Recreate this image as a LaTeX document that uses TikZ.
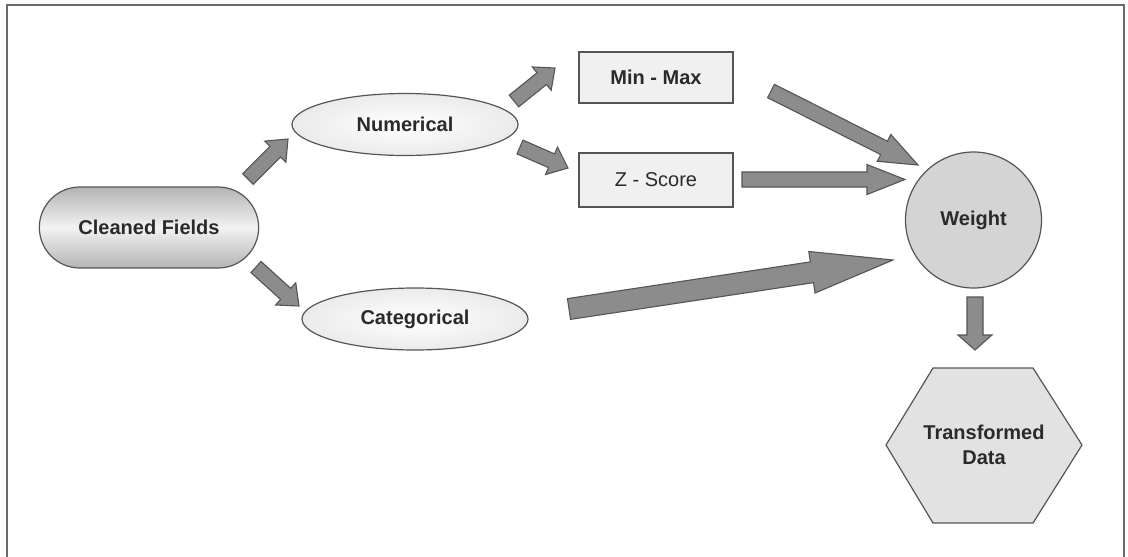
\documentclass[tikz,border=0pt]{standalone}
\usepackage{fontspec}
\setmainfont{Liberation Sans}
\usetikzlibrary{calc,shapes.geometric,shapes.misc}

\definecolor{inkgray}{HTML}{2A2A2A}
\definecolor{edgegray}{HTML}{555555}
\definecolor{framegray}{HTML}{6A6A6A}
\definecolor{arrowfill}{HTML}{8C8C8C}
\definecolor{boxfill}{HTML}{F0F0F0}
\definecolor{weightfill}{HTML}{D4D4D4}
\definecolor{hexfill}{HTML}{E2E2E2}
\definecolor{pilledge}{HTML}{B4B4B4}
\definecolor{pillmid}{HTML}{F2F2F2}

% Block arrow: tail, tip, shaft half-width, head half-width, head length (in pt)
\newcommand{\flowarrow}[5]{%
  \coordinate (fa-base) at ($(#2)!#5pt!(#1)$);
  \draw[flowarr] ($(#1)!#3pt!90:(#2)$) -- ($(fa-base)!#3pt!-90:(#1)$)
    -- ($(fa-base)!#4pt!-90:(#1)$) -- (#2) -- ($(fa-base)!#4pt!90:(#1)$)
    -- ($(fa-base)!#3pt!90:(#1)$) -- ($(#1)!#3pt!-90:(#2)$) -- cycle;}

\tikzset{
  lbl/.style={text=inkgray, font=\fontsize{20}{25}\selectfont\bfseries},
  outline/.style={draw=edgegray, line width=1.2pt},
  pill/.style={lbl, outline, rounded rectangle, minimum width=226pt, minimum height=81pt,
    top color=pilledge, bottom color=pilledge, middle color=pillmid},
  oval/.style={lbl, outline, ellipse, minimum width=226pt, minimum height=62pt,
    inner color=white, outer color=gray!16},
  rbox/.style={lbl, outline, rectangle, minimum width=154pt, minimum height=51pt, fill=boxfill},
  wcirc/.style={lbl, outline, circle, minimum size=136pt, fill=weightfill},
  flowarr/.style={fill=arrowfill, draw=edgegray, line width=1.1pt, line join=miter},
  frameline/.style={draw=framegray, line width=1.6pt}
}

\begin{document}
\begin{tikzpicture}[x=1pt, y=-1pt]
  \useasboundingbox (0,0) rectangle (1128,557);
  \fill[white] (0,0) rectangle (1128,557);

  % outer frame
  \draw[frameline] (7,558) -- (7,5) -- (1124,5) -- (1124,558);

  % nodes
  \node[pill] (clean) at (149,227.5) {Cleaned Fields};
  \node[oval] (num) at (405,124.5) {Numerical};
  \node[oval] (cat) at (415,319) {Categorical};
  \node[rbox] (mm) at (656,77.5) {Min - Max};
  \node[rbox, minimum height=54pt, font=\fontsize{20}{25}\selectfont] (zs) at (656,180) {Z - Score};
  \node[wcirc] (wt) at (973.5,220) {Weight};

  % hexagon for the output
  \coordinate (hexc) at (984,445);
  \draw[outline, fill=hexfill] ($(hexc)+(-51,-77)$) -- ($(hexc)+(49,-77)$) -- ($(hexc)+(98,0)$)
    -- ($(hexc)+(49,78)$) -- ($(hexc)+(-51,78)$) -- ($(hexc)+(-98,0)$) -- cycle;
  \node[lbl, align=center] (out) at (hexc) {Transformed\\Data};

  % arrow end points
  \coordinate (a1s) at (248,179);   \coordinate (a1e) at (288,139);
  \coordinate (a2s) at (256,267);   \coordinate (a2e) at (299,306);
  \coordinate (a3s) at (514,101);   \coordinate (a3e) at (555,68);
  \coordinate (a4s) at (520,147);   \coordinate (a4e) at (568,168);
  \coordinate (a5s) at (771,91);    \coordinate (a5e) at (918,165);
  \coordinate (a6s) at (742,179.5); \coordinate (a6e) at (905,179.5);
  \coordinate (a7s) at (569,309);   \coordinate (a7e) at (893,260);
  \coordinate (a8s) at (975,297);   \coordinate (a8e) at (975,350);

  % block arrows
  \flowarrow{a1s}{a1e}{7.5}{15}{18}
  \flowarrow{a2s}{a2e}{7.5}{15}{18}
  \flowarrow{a3s}{a3e}{7.5}{15}{17}
  \flowarrow{a4s}{a4e}{7.5}{15}{18}
  \flowarrow{a5s}{a5e}{7.5}{15}{38}
  \flowarrow{a6s}{a6e}{7.5}{15}{38}
  \flowarrow{a7s}{a7e}{10.5}{21}{82}
  \flowarrow{a8s}{a8e}{8}{17}{15}
\end{tikzpicture}
\end{document}
